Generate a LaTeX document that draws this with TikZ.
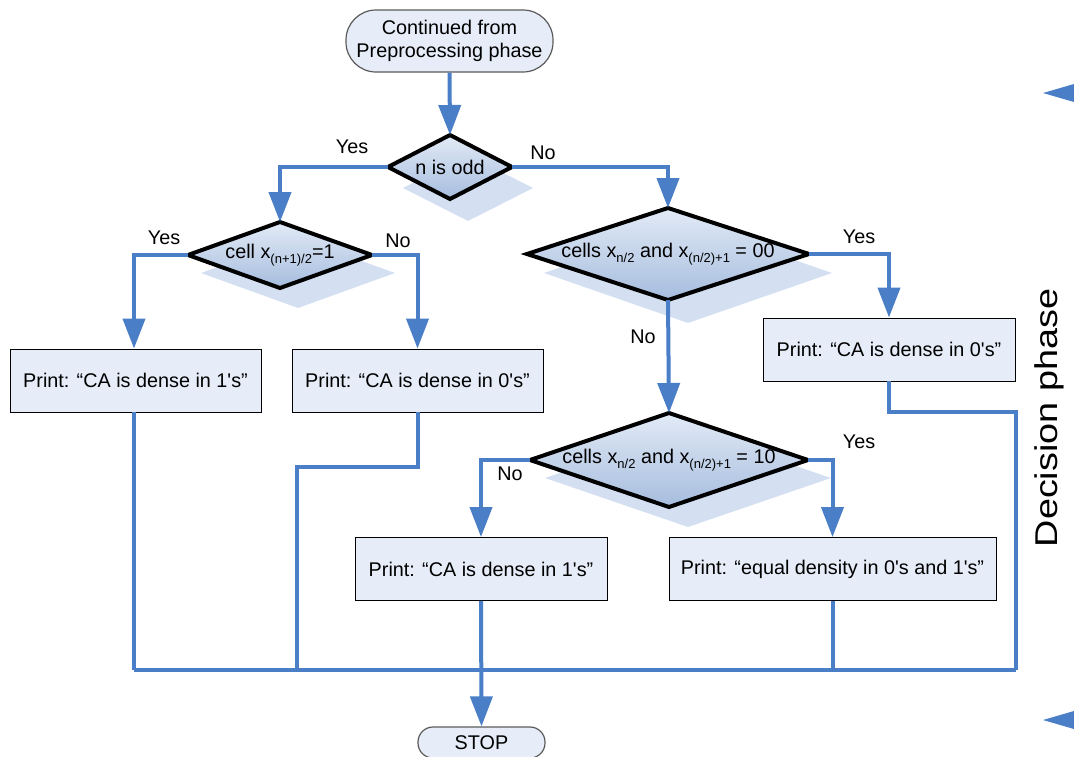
\documentclass[tikz,border=0pt]{standalone}
\usepackage{fontspec}
\setmainfont{Liberation Sans}
\usetikzlibrary{shapes.geometric,arrows.meta}
\definecolor{flowblue}{RGB}{74,126,199}
\definecolor{boxfill}{RGB}{230,237,248}
\definecolor{diatop}{RGB}{226,234,246}
\definecolor{diabot}{RGB}{166,189,222}
\definecolor{shadowc}{RGB}{205,219,240}
\definecolor{termline}{RGB}{90,90,90}
\newcommand\lowsub[1]{\raisebox{-4.5pt}{\fontsize{13}{13}\selectfont #1}}
\newcommand\aq{\textquotesingle}
\begin{document}
\begin{tikzpicture}[x=1pt,y=-1pt,
  every node/.style={font=\fontsize{19.8}{23}\selectfont, text=black},
  flow/.style={draw=flowblue, line width=4pt},
  arr/.style={flow, -{Triangle[width=22pt,length=30pt]}},
  dia/.style={diamond, inner sep=0pt, outer sep=0pt, draw=black, line width=4pt, top color=diatop, bottom color=diabot},
  dshadow/.style={diamond, inner sep=0pt, outer sep=0pt, fill=shadowc, opacity=0.85},
  pbox/.style={rectangle, draw=black, line width=0.9pt, fill=boxfill, minimum height=63pt, inner sep=0pt},
  term/.style={rectangle, rounded corners=15pt, draw=termline, line width=1.2pt, fill=boxfill, inner sep=0pt},
  lbl/.style={inner sep=0pt}
]
\useasboundingbox (0,0) rectangle (1074,756);

% shadows
\node[dshadow, minimum width=130pt, minimum height=66pt] (d1s) at (468,188) {};
\node[dshadow, minimum width=194pt, minimum height=70pt] (d2s) at (298,273) {};
\node[dshadow, minimum width=288pt, minimum height=100pt] (d3s) at (688,273) {};
\node[dshadow, minimum width=286pt, minimum height=98pt] (d4s) at (688,478) {};

% terminals
\node[term, rounded corners=30pt, minimum width=207pt, minimum height=62pt, align=center] (start) at (449.5,41) {Continued from\\Preprocessing phase};
\node[term, minimum width=127pt, minimum height=31pt] (stop) at (481.5,742.5) {STOP};

% diamonds
\node[dia, minimum width=124pt, minimum height=64pt] (d1) at (450,167) {};
\node[lbl] at (d1.center) {n is odd};
\node[dia, minimum width=184pt, minimum height=66pt] (d2) at (280,255) {};
\node[lbl] at (d2.center) {cell x\lowsub{(n+1)/2}=1};
\node[dia, minimum width=282pt, minimum height=92pt] (d3) at (668,254) {};
\node[lbl] at (d3.center) {cells x\lowsub{n/2} and x\lowsub{(n/2)+1} = 00};
\node[dia, minimum width=278pt, minimum height=94pt] (d4) at (669,460) {};
\node[lbl] at (d4.center) {cells x\lowsub{n/2} and x\lowsub{(n/2)+1} = 10};

% process boxes
\node[pbox, minimum width=251pt] (bA) at (135.5,380.5) {Print: “CA is dense in 1\aq s”};
\node[pbox, minimum width=251pt] (bB) at (417.5,380.5) {Print: “CA is dense in 0\aq s”};
\node[pbox, minimum width=252pt] (bC) at (889,349.5) {Print: “CA is dense in 0\aq s”};
\node[pbox, minimum width=252pt] (bD) at (481,569) {Print: “CA is dense in 1\aq s”};
\node[pbox, minimum width=327pt] (bE) at (832.5,569) {Print: “equal density in 0\aq s and 1\aq s”};

% branch labels
\node[lbl] (y1) at (352,147) {Yes};
\node[lbl] (n1) at (543,153) {No};
\node[lbl] (y2) at (164,238) {Yes};
\node[lbl] (n2) at (398,241) {No};
\node[lbl] (y3) at (859,237) {Yes};
\node[lbl] (n3) at (643,337) {No};
\node[lbl] (n4) at (510,474) {No};
\node[lbl] (y4) at (859,442) {Yes};

% bus coordinates
\coordinate (busL) at (134,670);
\coordinate (busR) at (1016,670);
\coordinate (kB) at (297,467);
\coordinate (kC) at (1016,412);

% connectors
\draw[arr] (start.south) -- (d1.north);
\draw[arr] (d1.west) -| (d2.north);
\draw[arr] (d1.east) -| (d3.north);
\draw[arr] (d2.west) -| (bA.north -| busL);
\draw[arr] (d2.east) -| (bB.north);
\draw[arr] (d3.east) -| (bC.north);
\draw[arr] (d3.south) -- (d4.north);
\draw[arr] (d4.west) -| (bD.north);
\draw[arr] (d4.east) -| (bE.north);

\draw[flow] (bA.south -| busL) -- (busL);
\draw[flow] (bB.south) |- (kB) -- (kB |- busL);
\draw[flow] (bC.south) |- (kC) -- (busR);
\draw[flow] (bE.south) -- (bE.south |- busL);
\draw[flow] (busL) -- (busR);
\draw[arr] (bD.south) -- (stop.north);

% side marks
\fill[flowblue] (1043,93) -- (1074,84) -- (1074,102) -- cycle;
\fill[flowblue] (1043,720) -- (1074,711) -- (1074,729) -- cycle;
\node[lbl, rotate=90] (phase) at (1049,418) {\fontsize{31.5}{32}\selectfont\scalebox{1.2}[1]{Decision phase}};
\end{tikzpicture}
\end{document}
